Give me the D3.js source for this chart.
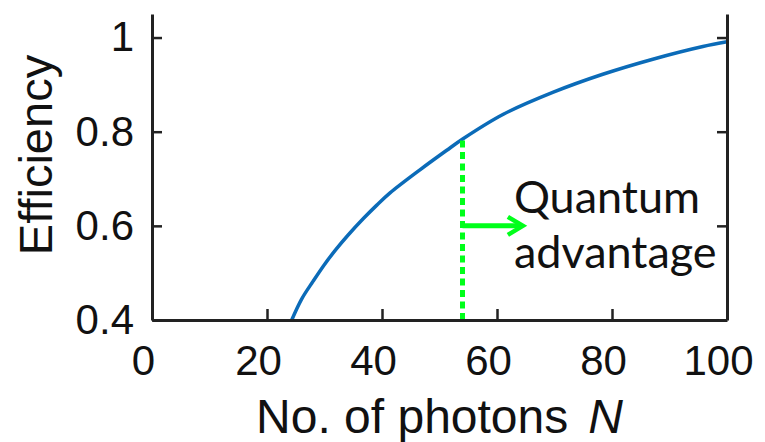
<!DOCTYPE html>
<html>
<head>
<meta charset="utf-8">
<script src="https://cdn.jsdelivr.net/npm/d3@7"></script>
<style>
  body { margin: 0; background: #fff; }
</style>
</head>
<body>
<div id="chart"></div>
<script>
// Data
var photons = [24.3, 26, 28, 30, 32, 34, 36.8, 39.1, 41.4, 46.6, 51.2, 54.1, 61.1, 69.8, 78.4, 87.1, 95.8, 100];
var efficiency = [0.400, 0.444, 0.482, 0.518, 0.550, 0.579, 0.616, 0.644, 0.670, 0.719, 0.760, 0.785, 0.837, 0.884, 0.922, 0.954, 0.981, 0.991];
var xTicks = [0, 20, 40, 60, 80, 100];
var yTicks = [0.4, 0.6, 0.8, 1];
var thresholdN = 54;
var arrowEnd = 64.5;
var arrowLevel = 0.6;
var noteLines = ["Quantum", "advantage"];

var svgWidth = 765;
var svgHeight = 442;

var margin = { top: 14, right: 38, bottom: 122, left: 152 };

var width = svgWidth - margin.left - margin.right;
var height = svgHeight - margin.top - margin.bottom;

var svg = d3.select("#chart")
  .append("svg")
  .attr("width", svgWidth)
  .attr("height", svgHeight);

var chartGroup = svg.append("g")
  .attr("transform", `translate(${margin.left}, ${margin.top})`);

var axisFont = "'Liberation Sans', Arial, sans-serif";
var inkColor = "#222";

// scales
var xScale = d3.scaleLinear().domain([0, 100]).range([0, width]);
var yScale = d3.scaleLinear().domain([0.4, 1.05]).range([height, 0]);

var points = photons.map((n, i) => ({ n: n, e: efficiency[i] }));

// curve
var line = d3.line()
  .x(d => xScale(d.n))
  .y(d => yScale(d.e))
  .curve(d3.curveCatmullRom.alpha(0.5));

chartGroup.append("path")
  .datum(points)
  .attr("d", line)
  .attr("fill", "none")
  .attr("stroke", "#0b6bb8")
  .attr("stroke-width", 3.5);

// threshold marker, stops where it meets the curve
var eAtThreshold = d3.interpolateNumber(0.760, 0.785)((thresholdN - 51.2) / (54.1 - 51.2));
chartGroup.append("line")
  .attr("x1", xScale(thresholdN))
  .attr("x2", xScale(thresholdN))
  .attr("y1", yScale(0.4))
  .attr("y2", yScale(eAtThreshold))
  .attr("stroke", "#00ff1a")
  .attr("stroke-width", 5)
  .attr("stroke-dasharray", "7,4.5");

chartGroup.append("line")
  .attr("x1", xScale(thresholdN))
  .attr("x2", xScale(arrowEnd) - 2)
  .attr("y1", yScale(arrowLevel))
  .attr("y2", yScale(arrowLevel))
  .attr("stroke", "#00ff1a")
  .attr("stroke-width", 5);

var ax = xScale(arrowEnd), ay = yScale(arrowLevel);
chartGroup.append("path")
  .attr("d", `M${ax - 15},${ay - 9}L${ax},${ay}L${ax - 15},${ay + 9}`)
  .attr("fill", "none")
  .attr("stroke", "#00ff1a")
  .attr("stroke-width", 4.5);

// annotation text
chartGroup.append("text")
  .attr("font-family", "Lato, 'Open Sans', sans-serif")
  .attr("font-size", "45px")
  .attr("fill", "#111")
  .selectAll("tspan")
  .data(noteLines)
  .enter()
  .append("tspan")
  .attr("x", xScale(arrowEnd) - 9)
  .attr("y", (d, i) => yScale(arrowLevel) - 13 + i * 55)
  .text(d => d);

// axes
var bottomAxis = d3.axisBottom(xScale)
  .tickValues(xTicks)
  .tickSizeInner(-11)
  .tickSizeOuter(0)
  .tickPadding(25)
  .tickFormat(d3.format("d"));

var leftAxis = d3.axisLeft(yScale)
  .tickValues(yTicks)
  .tickSizeInner(-10)
  .tickSizeOuter(0)
  .tickPadding(18)
  .tickFormat(d => d === 1 ? "1" : d3.format(".1f")(d));

var rightAxis = d3.axisRight(yScale)
  .tickValues(yTicks)
  .tickSizeInner(-10)
  .tickSizeOuter(0)
  .tickFormat("");

var xAxisG = chartGroup.append("g")
  .attr("transform", `translate(0, ${height})`)
  .call(bottomAxis);

var yAxisG = chartGroup.append("g")
  .call(leftAxis);

var rAxisG = chartGroup.append("g")
  .attr("transform", `translate(${width}, 0)`)
  .call(rightAxis);

[xAxisG, yAxisG, rAxisG].forEach(g => {
  g.select(".domain").attr("stroke", inkColor).attr("stroke-width", 3);
  g.selectAll(".tick line").attr("stroke", inkColor).attr("stroke-width", 2.5);
  g.selectAll(".tick text")
    .attr("fill", "#111")
    .style("font-family", axisFont)
    .style("font-size", "42px");
});
xAxisG.selectAll(".tick text").attr("dx", -9);

// axis labels
chartGroup.append("text")
  .attr("transform", "rotate(-90)")
  .attr("x", -155 + margin.top)
  .attr("y", 52 - margin.left)
  .attr("text-anchor", "middle")
  .attr("font-family", axisFont)
  .attr("font-size", "47px")
  .attr("fill", "#111")
  .text("Efficiency");

var xLabel = chartGroup.append("text")
  .attr("x", width / 2)
  .attr("y", 433 - margin.top)
  .attr("text-anchor", "middle")
  .attr("font-family", axisFont)
  .attr("font-size", "48px")
  .attr("fill", "#111");
xLabel.append("tspan").text("No. of photons");
xLabel.append("tspan").attr("dx", 20).attr("font-style", "italic").text("N");
</script>
</body>
</html>
